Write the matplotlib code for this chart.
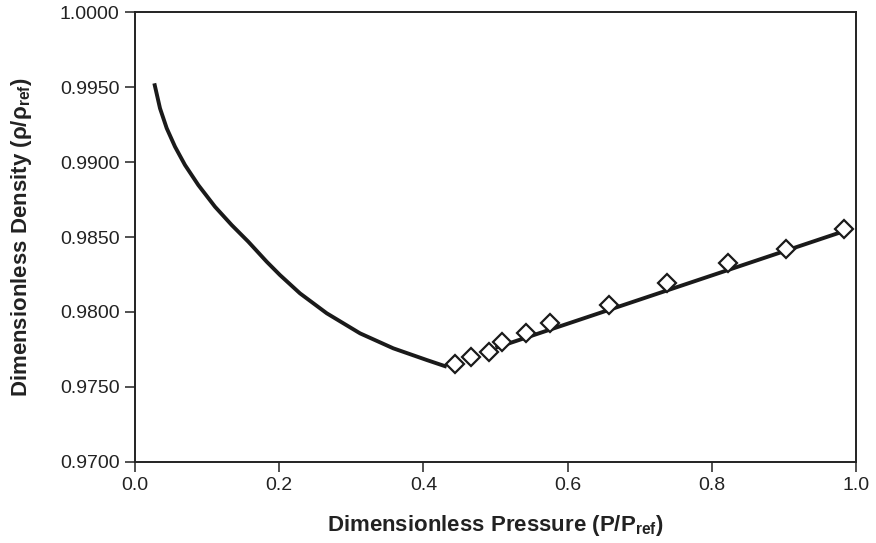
import matplotlib
matplotlib.use("Agg")
import matplotlib.pyplot as plt
from matplotlib import font_manager

# Curve (model)
curve_p = [0.0268, 0.0347, 0.0440, 0.0555, 0.0693, 0.0878, 0.1110, 0.1341, 0.1571, 0.1827,
           0.2011, 0.2288, 0.2659, 0.3121, 0.3582, 0.4046, 0.4323]
curve_rho = [0.99526, 0.99359, 0.99226, 0.99103, 0.98981, 0.98847, 0.98702, 0.98580, 0.98469,
             0.98335, 0.98246, 0.98124, 0.97991, 0.97857, 0.97757, 0.97679, 0.97634]

# Straight line segment
line_p = [0.500, 0.984]
line_rho = [0.97760, 0.98540]

# Measured points (diamonds)
pts_p = [0.444, 0.466, 0.491, 0.509, 0.542, 0.576, 0.657, 0.738, 0.822, 0.903, 0.984]
pts_rho = [0.97652, 0.97697, 0.97730, 0.97801, 0.97857, 0.97924, 0.98044, 0.98193, 0.98328,
           0.98418, 0.98553]

xticks = [0.0, 0.2, 0.4, 0.6, 0.8, 1.0]
yticks = [0.9700, 0.9750, 0.9800, 0.9850, 0.9900, 0.9950, 1.0000]

names = {f.name for f in font_manager.fontManager.ttflist}
label_font = "Liberation Sans Narrow" if "Liberation Sans Narrow" in names else "Liberation Sans"

fig = plt.figure(figsize=(8.76, 5.43), dpi=100)
ax = fig.add_axes([0.1541, 0.1497, 0.9772 - 0.1541, 0.9773 - 0.1497])

ax.plot(curve_p, curve_rho, color="#1a1a1a", lw=2.8, solid_capstyle="butt",
        solid_joinstyle="round", zorder=2)
ax.plot(line_p, line_rho, color="#1a1a1a", lw=2.8, solid_capstyle="butt", zorder=2)
ax.plot(pts_p, pts_rho, linestyle="none", marker="D", markersize=9.5,
        markerfacecolor="white", markeredgecolor="#1a1a1a", markeredgewidth=1.6, zorder=3)

ax.set_xlim(0.0, 1.0)
ax.set_ylim(0.9700, 1.0000)
ax.set_xticks(xticks)
ax.set_yticks(yticks)
ax.set_xticklabels([f"{v:.1f}" for v in xticks], fontfamily="Liberation Sans", fontsize=14, color="#222222")
ax.set_yticklabels([f"{v:.4f}" for v in yticks], fontfamily="Liberation Sans", fontsize=14, color="#222222")
ax.tick_params(direction="out", length=7, width=1.2, color="#333333", pad=4)
for s in ax.spines.values():
    s.set_linewidth(1.4)
    s.set_color("#222222")

ax.set_xlabel(r"Dimensionless Pressure (P/P$_{\mathregular{ref}}$)", fontfamily=label_font,
              fontweight="bold", fontsize=16, color="#222222", labelpad=14)
ax.set_ylabel(r"Dimensionless Density (ρ/ρ$_{\mathregular{ref}}$)", fontfamily=label_font,
              fontweight="bold", fontsize=16, color="#222222", labelpad=19)

fig.savefig("out.png", dpi=100)
